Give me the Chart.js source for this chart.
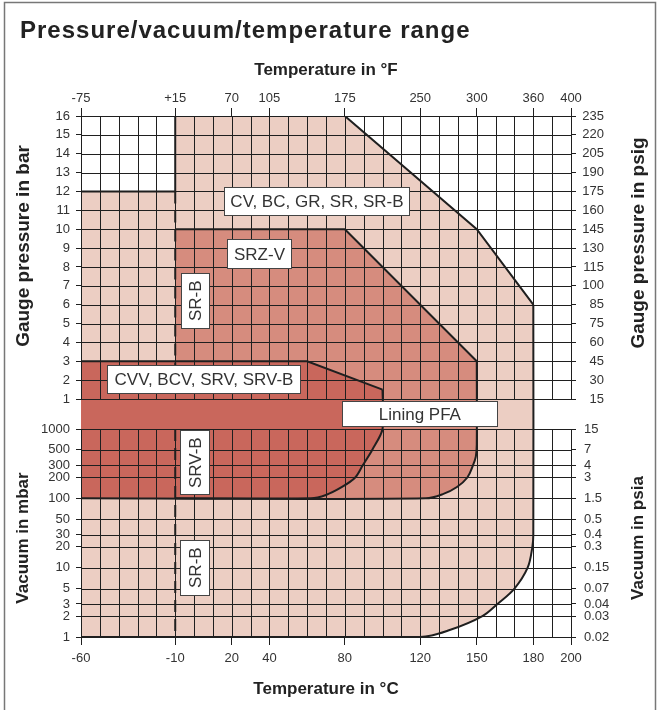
<!DOCTYPE html>
<html>
<head>
<meta charset="utf-8">
<script src="https://cdn.jsdelivr.net/npm/chart.js@4.4.1/dist/chart.umd.min.js"></script>
<style>
  html, body { margin: 0; padding: 0; background: #fff; }
  canvas { display: block; }
</style>
</head>
<body>
<canvas id="bereich" width="660" height="710"></canvas>
<script>
// temperature axis: °C ticks and the °F labels printed above them
const celsiusTicks = [-60, -10, 20, 40, 80, 120, 150, 180, 200];
const fahrenheitLabels = ['-75', '+15', '70', '105', '175', '250', '300', '360', '400'];

// pressure rows (bar gauge) and vacuum rows (mbar)
const barTicks = [16, 15, 14, 13, 12, 11, 10, 9, 8, 7, 6, 5, 4, 3, 2, 1];
const psigLabels = ['235', '220', '205', '190', '175', '160', '145', '130', '115', '100', '85', '75', '60', '45', '30', '15'];
const mbarTicks = [1000, 500, 300, 200, 100, 50, 30, 20, 10, 5, 3, 2, 1];
const psiaLabels = ['15', '7', '4', '3', '1.5', '0.5', '0.4', '0.3', '0.15', '0.07', '0.04', '0.03', '0.02'];

// region outlines: [°C, bar] for the pressure part, [°C, mbar] for the vacuum part
const lightTop = [[-60, 12], [-10, 12], [-10, 16], [80, 16], [150, 10], [180, 6]];
const lightBottom = [[-60, 1], [120, 1], [136, 1.27], [153, 2], [161, 3], [170, 5], [177, 10], [179.5, 20], [180, 30]];
const mediumTop = [[-10, 10], [80, 10], [150, 3]];
const mediumBottom = [[-10, 100], [123, 100], [132, 115], [139.5, 146], [145, 200], [148, 300], [149.5, 400], [150, 600]];
const darkTop = [[-60, 3], [60, 3], [100, 1.5]];
const darkBottom = [[-60, 100], [62, 100], [70, 112], [78.5, 146], [85.5, 200], [89.5, 300], [94.5, 500], [100, 1000]];

// dashed SR-B limit
const srbUpper = [[-10, 12], [-10, 1]];
const srbLower = [[-10, 1000], [-10, 1]];

const LIGHT = '#eccec3';
const MEDIUM = '#d68c7e';
const DARK = '#c9675c';
const INK = '#1f1f1f';
const TEXT = '#333';
const FONT = '"Liberation Sans", Arial, sans-serif';

// the y axis runs in "bar rows": the lining band and the log mbar part sit below 1 bar
const GAP = 1.59;
const DECADE = 3.674;
const yVac = mbar => 1 - GAP - DECADE * (3 - Math.log10(mbar));
const barPts = list => list.map(([t, p]) => ({ x: t, y: p }));
const vacPts = list => list.map(([t, p]) => ({ x: t, y: yVac(p) }));

const leftValues = barTicks.concat(mbarTicks.map(yVac));
const leftLabels = barTicks.map(String).concat(mbarTicks.map(String));

function linie(data, extra) {
  return Object.assign({
    data: data,
    borderColor: INK,
    borderWidth: 2,
    pointRadius: 0,
    tension: 0,
    fill: false
  }, extra);
}

const notes = [
  { text: 'CV, BC, GR, SR, SR-B', t: 65.2, y: 11.48, w: 186, h: 29 },
  { text: 'SRZ-V', t: 34.7, y: 8.7, w: 65, h: 30 },
  { text: 'SR-B', t: 0.7, y: 6.21, w: 29, h: 56, up: true },
  { text: 'CVV, BCV, SRV, SRV-B', t: 5.25, y: 2.06, w: 194, h: 29 },
  { text: 'Lining PFA', t: 119.8, y: (1 + yVac(1000)) / 2, w: 156, h: 26 },
  { text: 'SRV-B', t: 0.5, y: yVac(327), w: 30, h: 65, up: true },
  { text: 'SR-B', t: 0.5, y: yVac(10), w: 30, h: 56, up: true }
];

const zeichnen = {
  id: 'zeichnen',
  afterDatasetsDraw(chart) {
    const { ctx, chartArea, scales: { x, y } } = chart;
    const top = y.getPixelForValue(16);
    const a = y.getPixelForValue(1);
    const b = y.getPixelForValue(yVac(1000));
    const bot = y.getPixelForValue(yVac(1));
    ctx.save();
    ctx.strokeStyle = INK;
    ctx.lineWidth = 1;
    ctx.beginPath();
    // vertical grid, broken by the lining band
    for (let t = -60; t <= 200; t += 10) {
      const px = Math.round(x.getPixelForValue(t)) + 0.5;
      ctx.moveTo(px, top);
      ctx.lineTo(px, a);
      ctx.moveTo(px, b);
      ctx.lineTo(px, bot);
    }
    // horizontal grid on every pressure / vacuum row
    leftValues.forEach(v => {
      const py = Math.round(y.getPixelForValue(v)) + 0.5;
      ctx.moveTo(chartArea.left, py);
      ctx.lineTo(chartArea.right, py);
    });
    ctx.stroke();
    ctx.restore();
  },
  afterDraw(chart) {
    const { ctx, chartArea, scales: { x, y, yPsia } } = chart;
    ctx.save();

    // frame
    ctx.strokeStyle = '#777';
    ctx.lineWidth = 1.5;
    ctx.beginPath();
    ctx.moveTo(4.5, 712);
    ctx.lineTo(4.5, 2.5);
    ctx.lineTo(655.5, 2.5);
    ctx.lineTo(655.5, 712);
    ctx.stroke();

    // psia labels, left aligned next to the right edge
    ctx.font = '13px ' + FONT;
    ctx.fillStyle = TEXT;
    ctx.textAlign = 'left';
    ctx.textBaseline = 'middle';
    mbarTicks.forEach((v, i) => {
      ctx.fillText(psiaLabels[i], chartArea.right + 13, yPsia.getPixelForValue(yVac(v)));
    });

    // label boxes
    ctx.font = '17px ' + FONT;
    ctx.textAlign = 'center';
    ctx.textBaseline = 'alphabetic';
    notes.forEach(n => {
      const cx = x.getPixelForValue(n.t);
      const cy = y.getPixelForValue(n.y);
      ctx.fillStyle = '#fff';
      ctx.strokeStyle = '#444';
      ctx.lineWidth = 1;
      ctx.fillRect(Math.round(cx - n.w / 2), Math.round(cy - n.h / 2), n.w, n.h);
      ctx.strokeRect(Math.round(cx - n.w / 2) + 0.5, Math.round(cy - n.h / 2) + 0.5, n.w - 1, n.h - 1);
      ctx.fillStyle = TEXT;
      ctx.save();
      ctx.translate(cx, cy);
      if (n.up) ctx.rotate(-Math.PI / 2);
      ctx.fillText(n.text, 0, 6);
      ctx.restore();
    });

    // title
    ctx.fillStyle = '#222';
    ctx.textAlign = 'left';
    ctx.font = 'bold 24px ' + FONT;
    ctx.letterSpacing = '1px';
    ctx.fillText('Pressure/vacuum/temperature range', 20, 38);
    ctx.letterSpacing = '0px';

    // axis titles
    ctx.font = 'bold 17px ' + FONT;
    ctx.textAlign = 'center';
    const midX = (chartArea.left + chartArea.right) / 2;
    ctx.fillText('Temperature in \u00b0F', midX, 75);
    ctx.fillText('Temperature in \u00b0C', midX, 694);
    const side = (text, cx, cy, size) => {
      ctx.save();
      ctx.font = 'bold ' + size + 'px ' + FONT;
      ctx.translate(cx, cy);
      ctx.rotate(-Math.PI / 2);
      ctx.fillText(text, 0, size * 0.36);
      ctx.restore();
    };
    side('Gauge pressure in bar', 22, 246, 19);
    side('Vacuum in mbar', 22, 538, 17);
    side('Gauge pressure in psig', 637, 243, 19);
    side('Vacuum in psia', 637, 538, 17);
    ctx.restore();
  }
};

const tickFont = { family: FONT, size: 13 };

new Chart(document.getElementById('bereich'), {
  type: 'line',
  data: {
    datasets: [
      linie(barPts(srbUpper), { borderDash: [12, 7] }),
      linie(vacPts(srbLower), { borderDash: [12, 7] }),
      linie(barPts(darkTop), { fill: '+1', backgroundColor: DARK }),
      linie(vacPts(darkBottom).concat(barPts(darkTop).slice(-1)), { tension: 0.3 }),
      linie(barPts(mediumTop), { fill: '+1', backgroundColor: MEDIUM }),
      linie(vacPts(mediumBottom).concat(barPts(mediumTop).slice(-1)), { tension: 0.35 }),
      linie(barPts(lightTop), { fill: '+1', backgroundColor: LIGHT }),
      linie(vacPts(lightBottom).concat(barPts(lightTop).slice(-1)), { tension: 0.35 })
    ]
  },
  options: {
    responsive: false,
    animation: false,
    events: [],
    layout: { padding: { right: 56 } },
    plugins: {
      legend: { display: false },
      tooltip: { enabled: false },
      filler: { drawTime: 'beforeDatasetsDraw' }
    },
    scales: {
      x: {
        type: 'linear', position: 'bottom', min: -60, max: 200,
        afterBuildTicks: s => { s.ticks = celsiusTicks.map(v => ({ value: v })); },
        afterFit: s => { s.height = 73; },
        grid: { drawOnChartArea: false, tickLength: 8, color: INK },
        border: { color: INK },
        ticks: { font: tickFont, color: TEXT, padding: 6, maxRotation: 0, autoSkip: false, callback: v => String(v) }
      },
      x2: {
        type: 'linear', position: 'top', min: -60, max: 200,
        afterBuildTicks: s => { s.ticks = celsiusTicks.map(v => ({ value: v })); },
        afterFit: s => { s.height = 116; },
        grid: { drawOnChartArea: false, tickLength: 8, color: INK },
        border: { color: INK },
        ticks: { font: tickFont, color: TEXT, padding: 2, maxRotation: 0, autoSkip: false, callback: (v, i) => fahrenheitLabels[i] }
      },
      y: {
        type: 'linear', position: 'left', min: yVac(1), max: 16,
        afterBuildTicks: s => { s.ticks = leftValues.map(v => ({ value: v })); },
        afterFit: s => { s.width = 81; },
        grid: { drawOnChartArea: false, color: INK, tickLength: 5 },
        border: { color: INK },
        ticks: { font: tickFont, color: TEXT, padding: 6, autoSkip: false, callback: (v, i) => leftLabels[i] }
      },
      yPsia: {
        type: 'linear', position: 'right', weight: 0, min: yVac(1), max: 16,
        afterBuildTicks: s => { s.ticks = mbarTicks.map(v => ({ value: yVac(v) })); },
        afterFit: s => { s.width = 0; },
        grid: { drawOnChartArea: false, color: INK, tickLength: 5 },
        border: { display: false },
        ticks: { display: false }
      },
      yPsig: {
        type: 'linear', position: 'right', weight: 1, min: yVac(1), max: 16,
        afterBuildTicks: s => { s.ticks = barTicks.map(v => ({ value: v })); },
        afterFit: s => { s.width = 33; },
        grid: { drawOnChartArea: false, color: INK, tickLength: 5 },
        border: { display: false },
        ticks: { font: tickFont, color: TEXT, padding: 6, autoSkip: false, crossAlign: 'far', callback: (v, i) => psigLabels[i] }
      }
    }
  },
  plugins: [zeichnen]
});
</script>
</body>
</html>
